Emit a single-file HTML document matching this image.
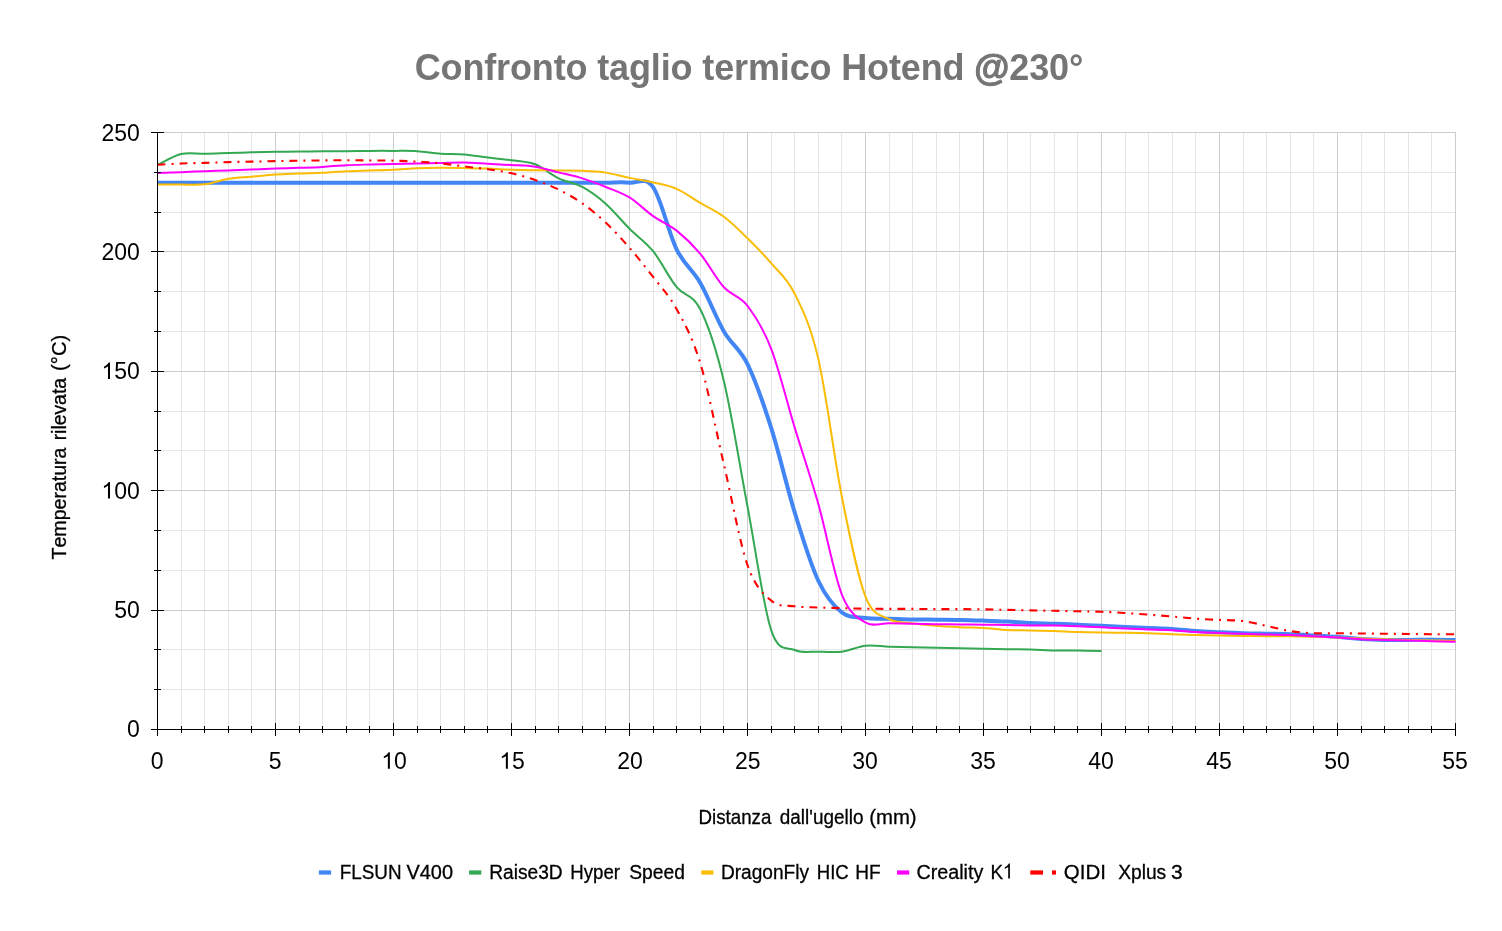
<!DOCTYPE html>
<html><head><meta charset="utf-8"><title>Confronto taglio termico Hotend</title>
<style>html,body{margin:0;padding:0;background:#fff;}svg{display:block;will-change:transform;}text{font-family:"Liberation Sans",sans-serif;font-kerning:none;}</style></head><body>
<svg width="1502" height="931" viewBox="0 0 1502 931">
<rect x="0" y="0" width="1502" height="931" fill="#ffffff"/>
<text x="414.7" y="80" textLength="668.6" lengthAdjust="spacing" font-size="36" font-weight="bold" fill="#757575">Confronto taglio termico Hotend <tspan stroke="#757575" stroke-width="1.1">@</tspan>230°</text>
<path d="M181.5,132.5V729.5M204.5,132.5V729.5M228.5,132.5V729.5M251.5,132.5V729.5M299.5,132.5V729.5M322.5,132.5V729.5M346.5,132.5V729.5M369.5,132.5V729.5M417.5,132.5V729.5M440.5,132.5V729.5M464.5,132.5V729.5M487.5,132.5V729.5M535.5,132.5V729.5M558.5,132.5V729.5M582.5,132.5V729.5M605.5,132.5V729.5M653.5,132.5V729.5M676.5,132.5V729.5M700.5,132.5V729.5M723.5,132.5V729.5M771.5,132.5V729.5M794.5,132.5V729.5M818.5,132.5V729.5M841.5,132.5V729.5M889.5,132.5V729.5M912.5,132.5V729.5M936.5,132.5V729.5M959.5,132.5V729.5M1007.5,132.5V729.5M1030.5,132.5V729.5M1054.5,132.5V729.5M1077.5,132.5V729.5M1125.5,132.5V729.5M1148.5,132.5V729.5M1172.5,132.5V729.5M1195.5,132.5V729.5M1243.5,132.5V729.5M1266.5,132.5V729.5M1290.5,132.5V729.5M1313.5,132.5V729.5M1361.5,132.5V729.5M1384.5,132.5V729.5M1408.5,132.5V729.5M1431.5,132.5V729.5M157.5,689.5H1455.5M157.5,649.5H1455.5M157.5,570.5H1455.5M157.5,530.5H1455.5M157.5,450.5H1455.5M157.5,411.5H1455.5M157.5,331.5H1455.5M157.5,291.5H1455.5M157.5,212.5H1455.5M157.5,172.5H1455.5" stroke="#e6e6e6" stroke-width="1" fill="none" shape-rendering="crispEdges"/>
<path d="M157.5,132.5V729.5M275.5,132.5V729.5M393.5,132.5V729.5M511.5,132.5V729.5M629.5,132.5V729.5M747.5,132.5V729.5M865.5,132.5V729.5M983.5,132.5V729.5M1101.5,132.5V729.5M1219.5,132.5V729.5M1337.5,132.5V729.5M1455.5,132.5V729.5M157.5,729.5H1455.5M157.5,610.5H1455.5M157.5,490.5H1455.5M157.5,371.5H1455.5M157.5,251.5H1455.5M157.5,132.5H1455.5" stroke="#cccccc" stroke-width="1" fill="none" shape-rendering="crispEdges"/>
<g fill="none" stroke-linejoin="round">
<path d="M157.50,182.65C161.43,182.65 173.23,182.65 181.10,182.65C188.97,182.65 196.83,182.65 204.70,182.65C212.57,182.65 220.43,182.65 228.30,182.65C236.17,182.65 244.03,182.65 251.90,182.65C259.77,182.65 267.63,182.65 275.50,182.65C283.37,182.65 291.23,182.65 299.10,182.65C306.97,182.65 314.83,182.65 322.70,182.65C330.57,182.65 338.43,182.65 346.30,182.65C354.17,182.65 362.03,182.65 369.90,182.65C377.77,182.65 385.63,182.65 393.50,182.65C401.37,182.65 409.23,182.65 417.10,182.65C424.97,182.65 432.83,182.65 440.70,182.65C448.57,182.65 456.43,182.65 464.30,182.65C472.17,182.65 480.03,182.65 487.90,182.65C495.77,182.65 503.63,182.65 511.50,182.65C519.37,182.65 527.23,182.65 535.10,182.65C542.97,182.65 550.83,182.65 558.70,182.65C566.57,182.65 574.43,182.65 582.30,182.65C590.17,182.65 598.03,182.65 605.90,182.65C613.77,182.65 621.63,181.89 629.50,182.65C637.37,183.40 645.23,176.04 653.10,187.19C660.97,198.33 668.83,233.55 676.70,249.51C684.57,265.47 692.43,269.29 700.30,282.94C708.17,296.60 716.03,317.89 723.90,331.42C731.77,344.95 739.63,348.10 747.50,364.14C755.37,380.18 763.23,402.94 771.10,427.66C778.97,452.37 786.83,486.92 794.70,512.43C802.57,537.94 810.43,564.05 818.30,580.73C826.17,597.40 834.03,606.28 841.90,612.49C849.77,618.70 857.63,616.95 865.50,617.98C873.37,619.02 881.23,618.46 889.10,618.70C896.97,618.94 904.83,619.25 912.70,619.41C920.57,619.57 928.43,619.57 936.30,619.65C944.17,619.73 952.03,619.73 959.90,619.89C967.77,620.05 975.63,620.33 983.50,620.61C991.37,620.89 999.23,621.16 1007.10,621.56C1014.97,621.96 1022.83,622.64 1030.70,623.00C1038.57,623.35 1046.43,623.43 1054.30,623.71C1062.17,623.99 1070.03,624.31 1077.90,624.67C1085.77,625.02 1093.63,625.46 1101.50,625.86C1109.37,626.26 1117.23,626.70 1125.10,627.05C1132.97,627.41 1140.83,627.69 1148.70,628.01C1156.57,628.33 1164.43,628.45 1172.30,628.97C1180.17,629.48 1188.03,630.56 1195.90,631.11C1203.77,631.67 1211.63,631.95 1219.50,632.31C1227.37,632.67 1235.23,633.02 1243.10,633.26C1250.97,633.50 1258.83,633.58 1266.70,633.74C1274.57,633.90 1282.43,633.94 1290.30,634.22C1298.17,634.50 1306.03,634.98 1313.90,635.41C1321.77,635.85 1329.63,636.25 1337.50,636.85C1345.37,637.44 1353.23,638.48 1361.10,638.99C1368.97,639.51 1376.83,639.79 1384.70,639.95C1392.57,640.11 1400.43,639.99 1408.30,639.95C1416.17,639.91 1424.03,639.71 1431.90,639.71C1439.77,639.71 1451.57,639.91 1455.50,639.95" stroke="#4285f4" stroke-width="4"/>
<path d="M157.50,164.98C161.43,163.15 173.23,155.86 181.10,153.99C188.97,152.12 196.83,153.91 204.70,153.75C212.57,153.59 220.43,153.28 228.30,153.04C236.17,152.80 244.03,152.52 251.90,152.32C259.77,152.12 267.63,151.96 275.50,151.84C283.37,151.72 291.23,151.68 299.10,151.60C306.97,151.52 314.83,151.44 322.70,151.37C330.57,151.29 338.43,151.21 346.30,151.13C354.17,151.05 362.03,150.93 369.90,150.89C377.77,150.85 385.63,150.85 393.50,150.89C401.37,150.93 409.23,150.65 417.10,151.13C424.97,151.60 432.83,153.20 440.70,153.75C448.57,154.31 456.43,153.83 464.30,154.47C472.17,155.11 480.03,156.62 487.90,157.57C495.77,158.53 503.63,159.09 511.50,160.20C519.37,161.32 527.23,161.24 535.10,164.26C542.97,167.29 550.83,174.57 558.70,178.35C566.57,182.13 574.43,182.69 582.30,186.95C590.17,191.21 598.03,196.94 605.90,203.90C613.77,210.87 621.63,220.86 629.50,228.74C637.37,236.62 645.23,241.43 653.10,251.18C660.97,260.93 668.83,277.57 676.70,287.24C684.57,296.91 692.43,293.53 700.30,309.21C708.17,324.89 716.03,348.45 723.90,381.33C731.77,414.20 739.63,465.03 747.50,506.46C755.37,547.89 763.23,606.00 771.10,629.92C778.97,653.84 786.83,646.36 794.70,649.98C802.57,653.60 810.43,651.37 818.30,651.65C826.17,651.93 834.03,652.65 841.90,651.65C849.77,650.66 857.63,646.52 865.50,645.68C873.37,644.85 881.23,646.36 889.10,646.64C896.97,646.91 904.83,647.15 912.70,647.35C920.57,647.55 928.43,647.67 936.30,647.83C944.17,647.99 952.03,648.15 959.90,648.31C967.77,648.47 975.63,648.63 983.50,648.79C991.37,648.94 999.23,649.14 1007.10,649.26C1014.97,649.38 1022.83,649.30 1030.70,649.50C1038.57,649.70 1046.43,650.28 1054.30,650.46C1062.17,650.64 1070.03,650.50 1077.90,650.58C1085.77,650.66 1097.57,650.88 1101.50,650.93" stroke="#34a853" stroke-width="2"/>
<path d="M157.50,184.56C161.43,184.56 173.23,184.60 181.10,184.56C188.97,184.52 196.83,185.27 204.70,184.32C212.57,183.36 220.43,180.10 228.30,178.83C236.17,177.55 244.03,177.39 251.90,176.68C259.77,175.96 267.63,175.05 275.50,174.53C283.37,174.01 291.23,173.85 299.10,173.57C306.97,173.29 314.83,173.26 322.70,172.86C330.57,172.46 338.43,171.58 346.30,171.19C354.17,170.79 362.03,170.71 369.90,170.47C377.77,170.23 385.63,170.11 393.50,169.75C401.37,169.39 409.23,168.64 417.10,168.32C424.97,168.00 432.83,167.88 440.70,167.84C448.57,167.80 456.43,167.96 464.30,168.08C472.17,168.20 480.03,168.28 487.90,168.56C495.77,168.84 503.63,169.47 511.50,169.75C519.37,170.03 527.23,170.11 535.10,170.23C542.97,170.35 550.83,170.39 558.70,170.47C566.57,170.55 574.43,170.35 582.30,170.71C590.17,171.07 598.03,171.42 605.90,172.62C613.77,173.81 621.63,176.24 629.50,177.87C637.37,179.50 645.23,180.58 653.10,182.41C660.97,184.24 668.83,185.43 676.70,188.86C684.57,192.28 692.43,198.29 700.30,202.95C708.17,207.60 716.03,210.91 723.90,216.80C731.77,222.69 739.63,230.57 747.50,238.29C755.37,246.01 763.23,253.89 771.10,263.12C778.97,272.36 786.83,277.73 794.70,293.69C802.57,309.65 810.43,325.01 818.30,358.88C826.17,392.75 834.03,457.27 841.90,496.91C849.77,536.55 857.63,576.35 865.50,596.73C873.37,617.10 881.23,614.76 889.10,619.17C896.97,623.59 904.83,622.12 912.70,623.23C920.57,624.35 928.43,625.18 936.30,625.86C944.17,626.54 952.03,626.94 959.90,627.29C967.77,627.65 975.63,627.57 983.50,628.01C991.37,628.45 999.23,629.52 1007.10,629.92C1014.97,630.32 1022.83,630.20 1030.70,630.40C1038.57,630.60 1046.43,630.84 1054.30,631.11C1062.17,631.39 1070.03,631.83 1077.90,632.07C1085.77,632.31 1093.63,632.43 1101.50,632.55C1109.37,632.67 1117.23,632.67 1125.10,632.79C1132.97,632.91 1140.83,633.02 1148.70,633.26C1156.57,633.50 1164.43,633.94 1172.30,634.22C1180.17,634.50 1188.03,634.74 1195.90,634.94C1203.77,635.13 1211.63,635.25 1219.50,635.41C1227.37,635.57 1235.23,635.77 1243.10,635.89C1250.97,636.01 1258.83,636.05 1266.70,636.13C1274.57,636.21 1282.43,636.25 1290.30,636.37C1298.17,636.49 1306.03,636.65 1313.90,636.85C1321.77,637.04 1329.63,637.28 1337.50,637.56C1345.37,637.84 1353.23,638.24 1361.10,638.52C1368.97,638.80 1376.83,638.99 1384.70,639.23C1392.57,639.47 1400.43,639.75 1408.30,639.95C1416.17,640.15 1424.03,640.27 1431.90,640.43C1439.77,640.59 1451.57,640.83 1455.50,640.91" stroke="#fbbc04" stroke-width="2"/>
<path d="M157.50,173.10C161.43,172.94 173.23,172.46 181.10,172.14C188.97,171.82 196.83,171.46 204.70,171.19C212.57,170.91 220.43,170.75 228.30,170.47C236.17,170.19 244.03,169.83 251.90,169.51C259.77,169.20 267.63,168.84 275.50,168.56C283.37,168.28 291.23,168.12 299.10,167.84C306.97,167.56 314.83,167.33 322.70,166.89C330.57,166.45 338.43,165.61 346.30,165.22C354.17,164.82 362.03,164.70 369.90,164.50C377.77,164.30 385.63,164.18 393.50,164.02C401.37,163.86 409.23,163.70 417.10,163.54C424.97,163.38 432.83,163.23 440.70,163.07C448.57,162.91 456.43,162.47 464.30,162.59C472.17,162.71 480.03,163.38 487.90,163.78C495.77,164.18 503.63,164.50 511.50,164.98C519.37,165.45 527.23,165.41 535.10,166.65C542.97,167.88 550.83,170.43 558.70,172.38C566.57,174.33 574.43,175.92 582.30,178.35C590.17,180.78 598.03,183.76 605.90,186.95C613.77,190.13 621.63,192.60 629.50,197.45C637.37,202.31 645.23,210.55 653.10,216.08C660.97,221.61 668.83,224.36 676.70,230.65C684.57,236.94 692.43,244.38 700.30,253.81C708.17,263.24 716.03,278.57 723.90,287.24C731.77,295.92 739.63,295.64 747.50,305.87C755.37,316.10 763.23,328.32 771.10,348.61C778.97,368.91 786.83,401.79 794.70,427.66C802.57,453.53 810.43,476.01 818.30,503.83C826.17,531.65 834.03,574.80 841.90,594.58C849.77,614.36 857.63,617.74 865.50,622.52C873.37,627.29 881.23,623.04 889.10,623.23C896.97,623.43 904.83,623.55 912.70,623.71C920.57,623.87 928.43,624.07 936.30,624.19C944.17,624.31 952.03,624.35 959.90,624.43C967.77,624.51 975.63,624.59 983.50,624.67C991.37,624.75 999.23,624.79 1007.10,624.91C1014.97,625.03 1022.83,625.26 1030.70,625.38C1038.57,625.50 1046.43,625.46 1054.30,625.62C1062.17,625.78 1070.03,626.06 1077.90,626.34C1085.77,626.62 1093.63,626.94 1101.50,627.29C1109.37,627.65 1117.23,628.13 1125.10,628.49C1132.97,628.85 1140.83,629.16 1148.70,629.44C1156.57,629.72 1164.43,629.72 1172.30,630.16C1180.17,630.60 1188.03,631.59 1195.90,632.07C1203.77,632.55 1211.63,632.75 1219.50,633.02C1227.37,633.30 1235.23,633.50 1243.10,633.74C1250.97,633.98 1258.83,634.26 1266.70,634.46C1274.57,634.66 1282.43,634.66 1290.30,634.94C1298.17,635.21 1306.03,635.69 1313.90,636.13C1321.77,636.57 1329.63,637.04 1337.50,637.56C1345.37,638.08 1353.23,638.84 1361.10,639.23C1368.97,639.63 1376.83,639.75 1384.70,639.95C1392.57,640.15 1400.43,640.23 1408.30,640.43C1416.17,640.63 1424.03,640.91 1431.90,641.14C1439.77,641.38 1451.57,641.74 1455.50,641.86" stroke="#ff00ff" stroke-width="2"/>
<path d="M157.50,164.74C161.43,164.54 173.23,163.86 181.10,163.54C188.97,163.23 196.83,163.07 204.70,162.83C212.57,162.59 220.43,162.31 228.30,162.11C236.17,161.91 244.03,161.79 251.90,161.63C259.77,161.47 267.63,161.32 275.50,161.16C283.37,161.00 291.23,160.80 299.10,160.68C306.97,160.56 314.83,160.52 322.70,160.44C330.57,160.36 338.43,160.20 346.30,160.20C354.17,160.20 362.03,160.36 369.90,160.44C377.77,160.52 385.63,160.48 393.50,160.68C401.37,160.88 409.23,161.20 417.10,161.63C424.97,162.07 432.83,162.51 440.70,163.31C448.57,164.10 456.43,165.41 464.30,166.41C472.17,167.40 480.03,168.12 487.90,169.28C495.77,170.43 503.63,171.54 511.50,173.33C519.37,175.13 527.23,177.31 535.10,180.02C542.97,182.73 550.83,185.67 558.70,189.57C566.57,193.47 574.43,197.89 582.30,203.42C590.17,208.96 598.03,215.36 605.90,222.77C613.77,230.17 621.63,238.81 629.50,247.84C637.37,256.88 645.23,266.75 653.10,276.97C660.97,287.20 668.83,294.84 676.70,309.21C684.57,323.58 692.43,337.31 700.30,363.18C708.17,389.05 716.03,430.80 723.90,464.43C731.77,498.06 739.63,542.28 747.50,564.97C755.37,587.65 763.23,593.66 771.10,600.55C778.97,607.43 786.83,605.12 794.70,606.28C802.57,607.43 810.43,607.15 818.30,607.47C826.17,607.79 834.03,607.99 841.90,608.19C849.77,608.39 857.63,608.55 865.50,608.67C873.37,608.79 881.23,608.87 889.10,608.91C896.97,608.95 904.83,608.87 912.70,608.91C920.57,608.95 928.43,609.11 936.30,609.14C944.17,609.18 952.03,609.11 959.90,609.14C967.77,609.18 975.63,609.26 983.50,609.38C991.37,609.50 999.23,609.70 1007.10,609.86C1014.97,610.02 1022.83,610.18 1030.70,610.34C1038.57,610.50 1046.43,610.66 1054.30,610.82C1062.17,610.98 1070.03,611.13 1077.90,611.29C1085.77,611.45 1093.63,611.49 1101.50,611.77C1109.37,612.05 1117.23,612.49 1125.10,612.97C1132.97,613.44 1140.83,614.04 1148.70,614.64C1156.57,615.23 1164.43,615.87 1172.30,616.55C1180.17,617.22 1188.03,618.14 1195.90,618.70C1203.77,619.25 1211.63,619.49 1219.50,619.89C1227.37,620.29 1235.23,620.09 1243.10,621.08C1250.97,622.08 1258.83,624.19 1266.70,625.86C1274.57,627.53 1282.43,629.88 1290.30,631.11C1298.17,632.35 1306.03,632.91 1313.90,633.26C1321.77,633.62 1329.63,633.22 1337.50,633.26C1345.37,633.30 1353.23,633.42 1361.10,633.50C1368.97,633.58 1376.83,633.66 1384.70,633.74C1392.57,633.82 1400.43,633.90 1408.30,633.98C1416.17,634.06 1424.03,634.18 1431.90,634.22C1439.77,634.26 1451.57,634.22 1455.50,634.22" stroke="#ff0000" stroke-width="2.1" stroke-dasharray="8 6 2 6"/>
</g>
<path d="M157.5,132.5V736.0M151.0,729.5H1455.5M157.5,723.0V736.0M181.5,726.0V733.0M204.5,726.0V733.0M228.5,726.0V733.0M251.5,726.0V733.0M275.5,723.0V736.0M299.5,726.0V733.0M322.5,726.0V733.0M346.5,726.0V733.0M369.5,726.0V733.0M393.5,723.0V736.0M417.5,726.0V733.0M440.5,726.0V733.0M464.5,726.0V733.0M487.5,726.0V733.0M511.5,723.0V736.0M535.5,726.0V733.0M558.5,726.0V733.0M582.5,726.0V733.0M605.5,726.0V733.0M629.5,723.0V736.0M653.5,726.0V733.0M676.5,726.0V733.0M700.5,726.0V733.0M723.5,726.0V733.0M747.5,723.0V736.0M771.5,726.0V733.0M794.5,726.0V733.0M818.5,726.0V733.0M841.5,726.0V733.0M865.5,723.0V736.0M889.5,726.0V733.0M912.5,726.0V733.0M936.5,726.0V733.0M959.5,726.0V733.0M983.5,723.0V736.0M1007.5,726.0V733.0M1030.5,726.0V733.0M1054.5,726.0V733.0M1077.5,726.0V733.0M1101.5,723.0V736.0M1125.5,726.0V733.0M1148.5,726.0V733.0M1172.5,726.0V733.0M1195.5,726.0V733.0M1219.5,723.0V736.0M1243.5,726.0V733.0M1266.5,726.0V733.0M1290.5,726.0V733.0M1313.5,726.0V733.0M1337.5,723.0V736.0M1361.5,726.0V733.0M1384.5,726.0V733.0M1408.5,726.0V733.0M1431.5,726.0V733.0M1455.5,723.0V736.0M151.0,729.5H164.0M154.0,689.5H161.0M154.0,649.5H161.0M151.0,610.5H164.0M154.0,570.5H161.0M154.0,530.5H161.0M151.0,490.5H164.0M154.0,450.5H161.0M154.0,411.5H161.0M151.0,371.5H164.0M154.0,331.5H161.0M154.0,291.5H161.0M151.0,251.5H164.0M154.0,212.5H161.0M154.0,172.5H161.0M151.0,132.5H164.0" stroke="#000000" stroke-width="1" fill="none" shape-rendering="crispEdges"/>
<g font-size="23" fill="#000000">
<text x="139.8" y="737.3" text-anchor="end">0</text>
<text x="139.8" y="617.9" text-anchor="end">50</text>
<text x="139.8" y="498.5" text-anchor="end">00</text>
<path transform="translate(101.43,498.50) scale(0.01123,-0.01123)" d="M763 0H583V1147Q518 1085 412.5 1023T223 930V1104Q374 1175 487 1276T647 1472H763Z" fill="#000000"/>
<text x="139.8" y="379.1" text-anchor="end">50</text>
<path transform="translate(101.43,379.10) scale(0.01123,-0.01123)" d="M763 0H583V1147Q518 1085 412.5 1023T223 930V1104Q374 1175 487 1276T647 1472H763Z" fill="#000000"/>
<text x="139.8" y="259.7" text-anchor="end">200</text>
<text x="139.8" y="141.2" text-anchor="end">250</text>
<text x="157.1" y="768.8" text-anchor="middle">0</text>
<text x="275.1" y="768.8" text-anchor="middle">5</text>
<path transform="translate(381.31,768.80) scale(0.01123,-0.01123)" d="M763 0H583V1147Q518 1085 412.5 1023T223 930V1104Q374 1175 487 1276T647 1472H763Z" fill="#000000"/>
<text x="394.10" y="768.8">0</text>
<path transform="translate(499.31,768.80) scale(0.01123,-0.01123)" d="M763 0H583V1147Q518 1085 412.5 1023T223 930V1104Q374 1175 487 1276T647 1472H763Z" fill="#000000"/>
<text x="512.10" y="768.8">5</text>
<text x="630.1" y="768.8" text-anchor="middle">20</text>
<text x="747.7" y="768.8" text-anchor="middle">25</text>
<text x="865.1" y="768.8" text-anchor="middle">30</text>
<text x="983.1" y="768.8" text-anchor="middle">35</text>
<text x="1101.1" y="768.8" text-anchor="middle">40</text>
<text x="1219.1" y="768.8" text-anchor="middle">45</text>
<text x="1337.1" y="768.8" text-anchor="middle">50</text>
<text x="1455.1" y="768.8" text-anchor="middle">55</text>
</g>
<text transform="translate(698.46,823.65) scale(0.8923,1)" font-size="21" fill="#000000" stroke="#000000" stroke-width="0.3">Distanza</text>
<text transform="translate(779.80,823.65) scale(0.9021,1)" font-size="21" fill="#000000" stroke="#000000" stroke-width="0.3">dall'ugello</text>
<text transform="translate(869.17,823.65) scale(0.9700,1)" font-size="21" fill="#000000" stroke="#000000" stroke-width="0.3">(mm)</text>
<text transform="translate(66.00,559.45) rotate(-90) scale(0.9317,1)" font-size="21" fill="#000000" stroke="#000000" stroke-width="0.3">Temperatura</text>
<text transform="translate(66.00,440.37) rotate(-90) scale(0.9222,1)" font-size="21" fill="#000000" stroke="#000000" stroke-width="0.3">rilevata</text>
<text transform="translate(66.00,370.91) rotate(-90) scale(0.9630,1)" font-size="21" fill="#000000" stroke="#000000" stroke-width="0.3">(°C)</text>
<rect x="318.9" y="870.4" width="12.2" height="4.2" fill="#4285f4"/>
<rect x="469.1" y="870.4" width="12.2" height="4.2" fill="#34a853"/>
<rect x="701.2" y="870.4" width="12.2" height="4.2" fill="#fbbc04"/>
<rect x="897.0" y="870.4" width="12.2" height="4.2" fill="#ff00ff"/>
<rect x="1030.3" y="870.4" width="12.7" height="4.2" fill="#ff0000"/><rect x="1052" y="870.4" width="4" height="4.2" fill="#ff0000"/>
<text transform="translate(339.75,878.50) scale(0.8983,1)" font-size="21" fill="#000000" stroke="#000000" stroke-width="0.3">FLSUN</text>
<text transform="translate(406.45,878.50) scale(0.9511,1)" font-size="21" fill="#000000" stroke="#000000" stroke-width="0.3">V400</text>
<text transform="translate(489.24,878.50) scale(0.9122,1)" font-size="21" fill="#000000" stroke="#000000" stroke-width="0.3">Raise3D</text>
<text transform="translate(570.26,878.50) scale(0.8887,1)" font-size="21" fill="#000000" stroke="#000000" stroke-width="0.3">Hyper</text>
<text transform="translate(629.15,878.50) scale(0.9177,1)" font-size="21" fill="#000000" stroke="#000000" stroke-width="0.3">Speed</text>
<text transform="translate(720.94,878.50) scale(0.9100,1)" font-size="21" fill="#000000" stroke="#000000" stroke-width="0.3">DragonFly</text>
<text transform="translate(816.76,878.50) scale(0.8857,1)" font-size="21" fill="#000000" stroke="#000000" stroke-width="0.3">HIC</text>
<text transform="translate(855.24,878.50) scale(0.9096,1)" font-size="21" fill="#000000" stroke="#000000" stroke-width="0.3">HF</text>
<text transform="translate(916.41,878.50) scale(0.9394,1)" font-size="21" fill="#000000" stroke="#000000" stroke-width="0.3">Creality</text>
<text transform="translate(990.50,878.50) scale(0.9000,1)" font-size="21" fill="#000000" stroke="#000000" stroke-width="0.3">K</text>
<text transform="translate(1063.87,878.50) scale(0.9768,1)" font-size="21" fill="#000000" stroke="#000000" stroke-width="0.3">QIDI</text>
<text transform="translate(1118.15,878.50) scale(0.9150,1)" font-size="21" fill="#000000" stroke="#000000" stroke-width="0.3">Xplus</text>
<text transform="translate(1170.95,878.50) scale(1.0000,1)" font-size="21" fill="#000000" stroke="#000000" stroke-width="0.3">3</text>
<path transform="translate(1002.70,878.50) scale(0.00943,-0.01025)" d="M763 0H583V1147Q518 1085 412.5 1023T223 930V1104Q374 1175 487 1276T647 1472H763Z" fill="#000000"/>
</svg></body></html>
